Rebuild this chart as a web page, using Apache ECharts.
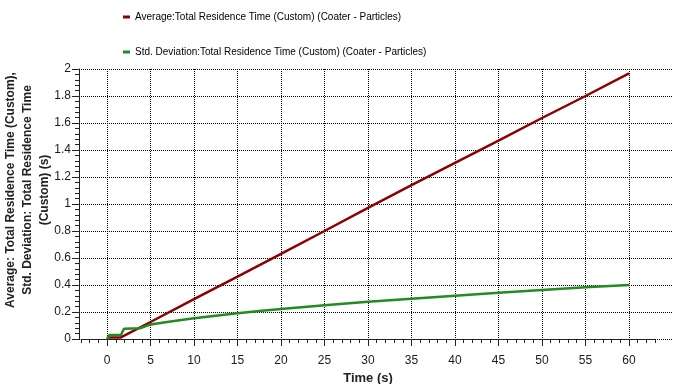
<!DOCTYPE html>
<html>
<head>
<meta charset="utf-8">
<script src="https://cdn.jsdelivr.net/npm/echarts@6/dist/echarts.min.js"></script>
<style>
html,body{margin:0;padding:0;background:#fff;}
#c{width:673px;height:384px;}
</style>
</head>
<body>
<div id="c"></div>
<script>
// ---- data ----
const avgName = 'Average:Total Residence Time (Custom) (Coater - Particles)';
const stdName = 'Std. Deviation:Total Residence Time (Custom) (Coater - Particles)';
const avgTime = [0, 1.6, 5, 10, 15, 20, 25, 30, 35, 40, 45, 50, 55, 60];
const avgVals = [0.012, 0.012, 0.126, 0.296, 0.462, 0.63, 0.80, 0.972, 1.14, 1.305, 1.47, 1.637, 1.80, 1.968];
const stdTime = [0, 0.3, 1.6, 1.95, 3.8, 5, 7.5, 10, 12.5, 15, 17.5, 20, 25, 30, 35, 40, 45, 50, 55, 60];
const stdVals = [0, 0.03, 0.03, 0.076, 0.08, 0.108, 0.132, 0.153, 0.172, 0.19, 0.207, 0.222, 0.25, 0.276, 0.299, 0.321, 0.343, 0.363, 0.383, 0.40];
const xTickValues = [0, 5, 10, 15, 20, 25, 30, 35, 40, 45, 50, 55, 60];
const yTitle = 'Average: Total Residence Time (Custom),\nStd. Deviation: Total Residence Time\n(Custom) (s)';
const xTitle = 'Time (s)';

const avgData = avgTime.map((t, i) => [t, avgVals[i]]);
const stdData = stdTime.map((t, i) => [t, stdVals[i]]);

const FONT = "'Liberation Sans', Arial, sans-serif";
const dotted = { color: '#000', width: 1, type: [1, 1] };

const chart = echarts.init(document.getElementById('c'));
chart.setOption({
  animation: false,
  backgroundColor: '#fff',
  legend: [
    { data: [avgName], left: 118, top: 7, icon: 'rect', itemWidth: 7, itemHeight: 3,
      textStyle: { fontFamily: FONT, fontSize: 10, color: '#000' } },
    { data: [stdName], left: 118, top: 42, icon: 'rect', itemWidth: 7, itemHeight: 3,
      textStyle: { fontFamily: FONT, fontSize: 10, color: '#000' } }
  ],
  grid: [
    { left: 107, right: 44, top: 69, bottom: 45, outerBoundsMode: 'none' },
    { left: 79, right: 0, top: 69, bottom: 45, outerBoundsMode: 'none' },
    { left: 81, right: 18, top: 69, bottom: 45, outerBoundsMode: 'none' },
    { left: 79, right: 0, top: 42, bottom: 46, outerBoundsMode: 'none' }
  ],
  xAxis: [
    { gridIndex: 0, type: 'value', min: 0, max: 60, interval: 5, offset: 7,
      axisLine: { show: false },
      axisTick: { show: true, length: 7, lineStyle: { color: '#222' } },
      axisLabel: { margin: 9, fontFamily: FONT, fontSize: 12, color: '#1a1a1a',
        formatter: v => (xTickValues.indexOf(v) >= 0 ? String(v) : '') },
      splitLine: { show: true, lineStyle: dotted },
      name: xTitle, nameLocation: 'middle', nameGap: 23,
      nameTextStyle: { fontFamily: FONT, fontSize: 13, fontWeight: 'bold', color: '#222' } },
    { gridIndex: 1, type: 'value', min: 0, max: 1, show: false },
    { gridIndex: 2, type: 'value', min: -3, max: 63, interval: 1, offset: 7,
      axisLine: { show: true, lineStyle: { color: '#222', width: 1 } },
      axisTick: { show: true, length: 4, lineStyle: { color: '#222' } },
      axisLabel: { show: false }, splitLine: { show: false } },
    { gridIndex: 3, type: 'value', min: 0, max: 1, show: false }
  ],
  yAxis: [
    { gridIndex: 0, type: 'value', min: 0, max: 2, show: false },
    { gridIndex: 1, type: 'value', min: 0, max: 2, interval: 0.2,
      axisLine: { show: true, lineStyle: { color: '#222', width: 1 } },
      axisTick: { show: true, length: 7, lineStyle: { color: '#222' } },
      minorTick: { show: true, splitNumber: 5, length: 4, lineStyle: { color: '#222' } },
      axisLabel: { margin: 8, fontFamily: FONT, fontSize: 12, color: '#1a1a1a',
        formatter: v => String(Math.round(v * 10) / 10) },
      splitLine: { show: true, lineStyle: dotted } },
    { gridIndex: 2, type: 'value', min: 0, max: 2, show: false },
    { gridIndex: 3, type: 'value', min: 0, max: 1,
      axisLine: { show: false }, axisTick: { show: false }, axisLabel: { show: false },
      splitLine: { show: false },
      name: yTitle, nameLocation: 'middle', nameGap: 26, nameRotate: 90,
      nameTextStyle: { fontFamily: FONT, fontSize: 12, fontWeight: 'bold', color: '#222',
        lineHeight: 17, align: 'center' } }
  ],
  series: [
    { name: avgName, type: 'line', xAxisIndex: 0, yAxisIndex: 0, data: avgData,
      showSymbol: false, lineStyle: { color: '#8b0000', width: 2.5 }, itemStyle: { color: '#8b0000' }, z: 3 },
    { name: stdName, type: 'line', xAxisIndex: 0, yAxisIndex: 0, data: stdData,
      showSymbol: false, lineStyle: { color: '#228b22', width: 2.5 }, itemStyle: { color: '#228b22' }, z: 4 }
  ]
});
</script>
</body>
</html>
